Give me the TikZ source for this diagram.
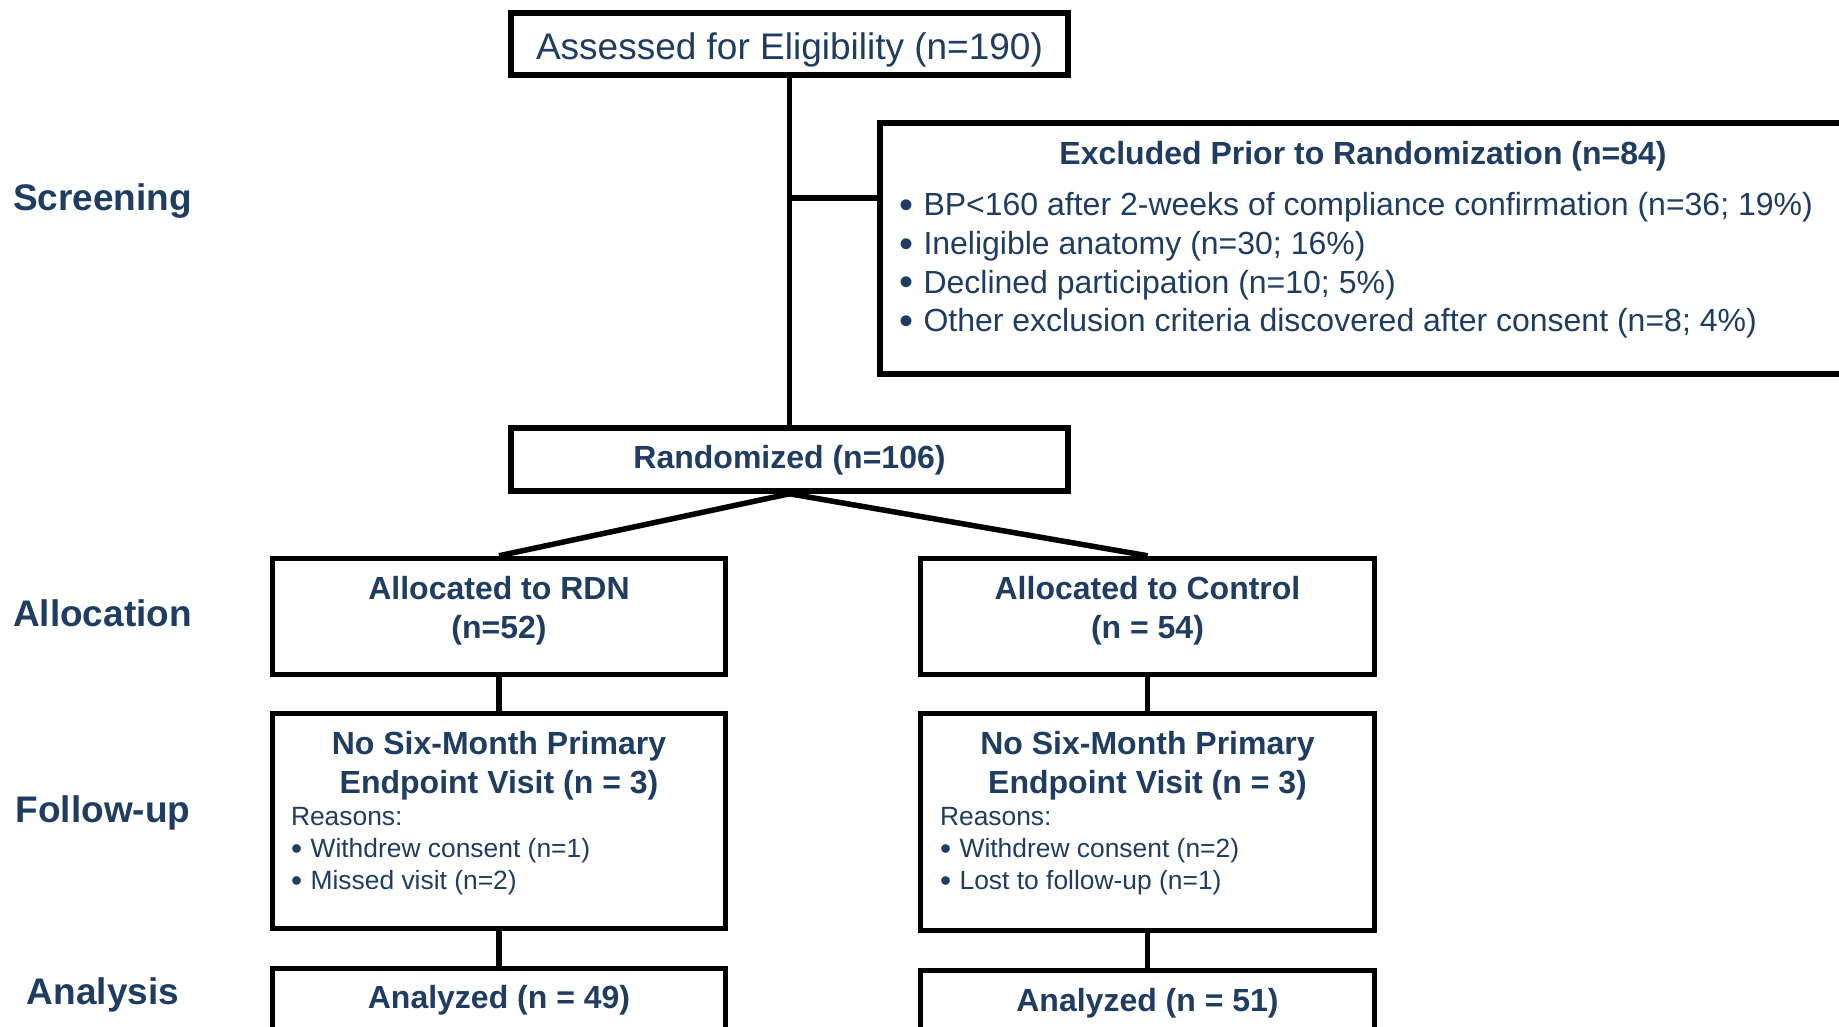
\documentclass[tikz,border=0pt]{standalone}
\usepackage{fontspec}
\setmainfont{Liberation Sans}
\definecolor{navy}{RGB}{31,60,98}
\newcommand{\bul}{\raisebox{-2.6pt}{\scalebox{1.25}{•}}\hspace{10.5pt}}
\newcommand{\sbul}{\raisebox{-1.8pt}{\scalebox{1.2}{•}}\hspace{8.5pt}}
\tikzset{
  box/.style={draw=black, line width=5.5pt, fill=white, inner sep=0pt},
  conn/.style={draw=black, line width=5.5pt},
  txt/.style={text=navy, inner sep=0pt, outer sep=0pt},
  big/.style={txt, font=\fontsize{37}{44}\selectfont},
  head/.style={txt, font=\bfseries\fontsize{32}{39}\selectfont, align=center},
  norm/.style={txt, font=\fontsize{32}{38.7}\selectfont, align=left},
  small/.style={txt, font=\fontsize{26.4}{32}\selectfont, align=left},
  phase/.style={txt, font=\bfseries\fontsize{37}{42}\selectfont, anchor=base},
}
\begin{document}
\begin{tikzpicture}[x=1pt,y=-1pt]
\useasboundingbox (0,0) rectangle (1839,1026);

% phase labels
\node[phase] (lscr) at (102.5,210) {Screening};
\node[phase] (lall) at (102.5,626) {Allocation};
\node[phase] (lfol) at (103,822) {Follow-up};
\node[phase] (lana) at (103,1004) {Analysis};

% boxes
\node[box, minimum width=557pt, minimum height=62pt] (assess) at (789.5,44) {};
\node[box, minimum width=968pt, minimum height=251pt] (excl) at (1364,248.5) {};
\node[box, minimum width=557pt, minimum height=63pt] (rand) at (789.5,459.5) {};
\node[box, minimum width=453pt, minimum height=116pt] (rdn) at (499,616.5) {};
\node[box, minimum width=454pt, minimum height=116pt] (ctl) at (1147.5,616.5) {};
\node[box, minimum width=453pt, minimum height=215pt] (fu1) at (499,821) {};
\node[box, minimum width=454pt, minimum height=217pt] (fu2) at (1147.5,822) {};
\node[box, minimum width=453pt, minimum height=66pt] (an1) at (499,1001.5) {};
\node[box, minimum width=454pt, minimum height=66pt] (an2) at (1147.5,1003.5) {};

% connectors
\coordinate (br) at (789.5,198);
\draw[conn] (assess.south) -- (rand.north);
\draw[conn] (br) -- (br -| excl.west);
\draw[conn] (rand.south) -- (rdn.north);
\draw[conn] (rand.south) -- (ctl.north);
\draw[conn] (rdn.south) -- (fu1.north);
\draw[conn] (ctl.south) -- (fu2.north);
\draw[conn] (fu1.south) -- (an1.north);
\draw[conn] (fu2.south) -- (an2.north);

% texts
\node[big] (tassess) at (789.5,50) {Assessed for Eligibility (n=190)};
\node[head] (texcl) at (1363,156.5) {Excluded Prior to Randomization (n=84)};
\node[norm, anchor=west] (texclb) at (899,265.5) {\bul BP<160 after 2-weeks of compliance confirmation (n=36; 19\%)\\\bul Ineligible anatomy (n=30; 16\%)\\\bul Declined participation (n=10; 5\%)\\\bul Other exclusion criteria discovered after consent (n=8; 4\%)};
\node[head] (trand) at (789.5,460) {Randomized (n=106)};
\node[head] (trdn) at (499,611) {Allocated to RDN\\(n=52)};
\node[head] (tctl) at (1147.5,611) {Allocated to Control\\(n = 54)};
\node[head] (tfu1) at (499,765.5) {No Six-Month Primary\\Endpoint Visit (n = 3)};
\node[head] (tfu2) at (1147.5,765.5) {No Six-Month Primary\\Endpoint Visit (n = 3)};
\node[small, anchor=west] (tfu1r) at (291,851.5) {Reasons:\\\sbul Withdrew consent (n=1)\\\sbul Missed visit (n=2)};
\node[small, anchor=west] (tfu2r) at (940,851.5) {Reasons:\\\sbul Withdrew consent (n=2)\\\sbul Lost to follow-up (n=1)};
\node[head] (tan1) at (499,1000.5) {Analyzed (n = 49)};
\node[head] (tan2) at (1147.5,1003.5) {Analyzed (n = 51)};
\end{tikzpicture}
\end{document}
